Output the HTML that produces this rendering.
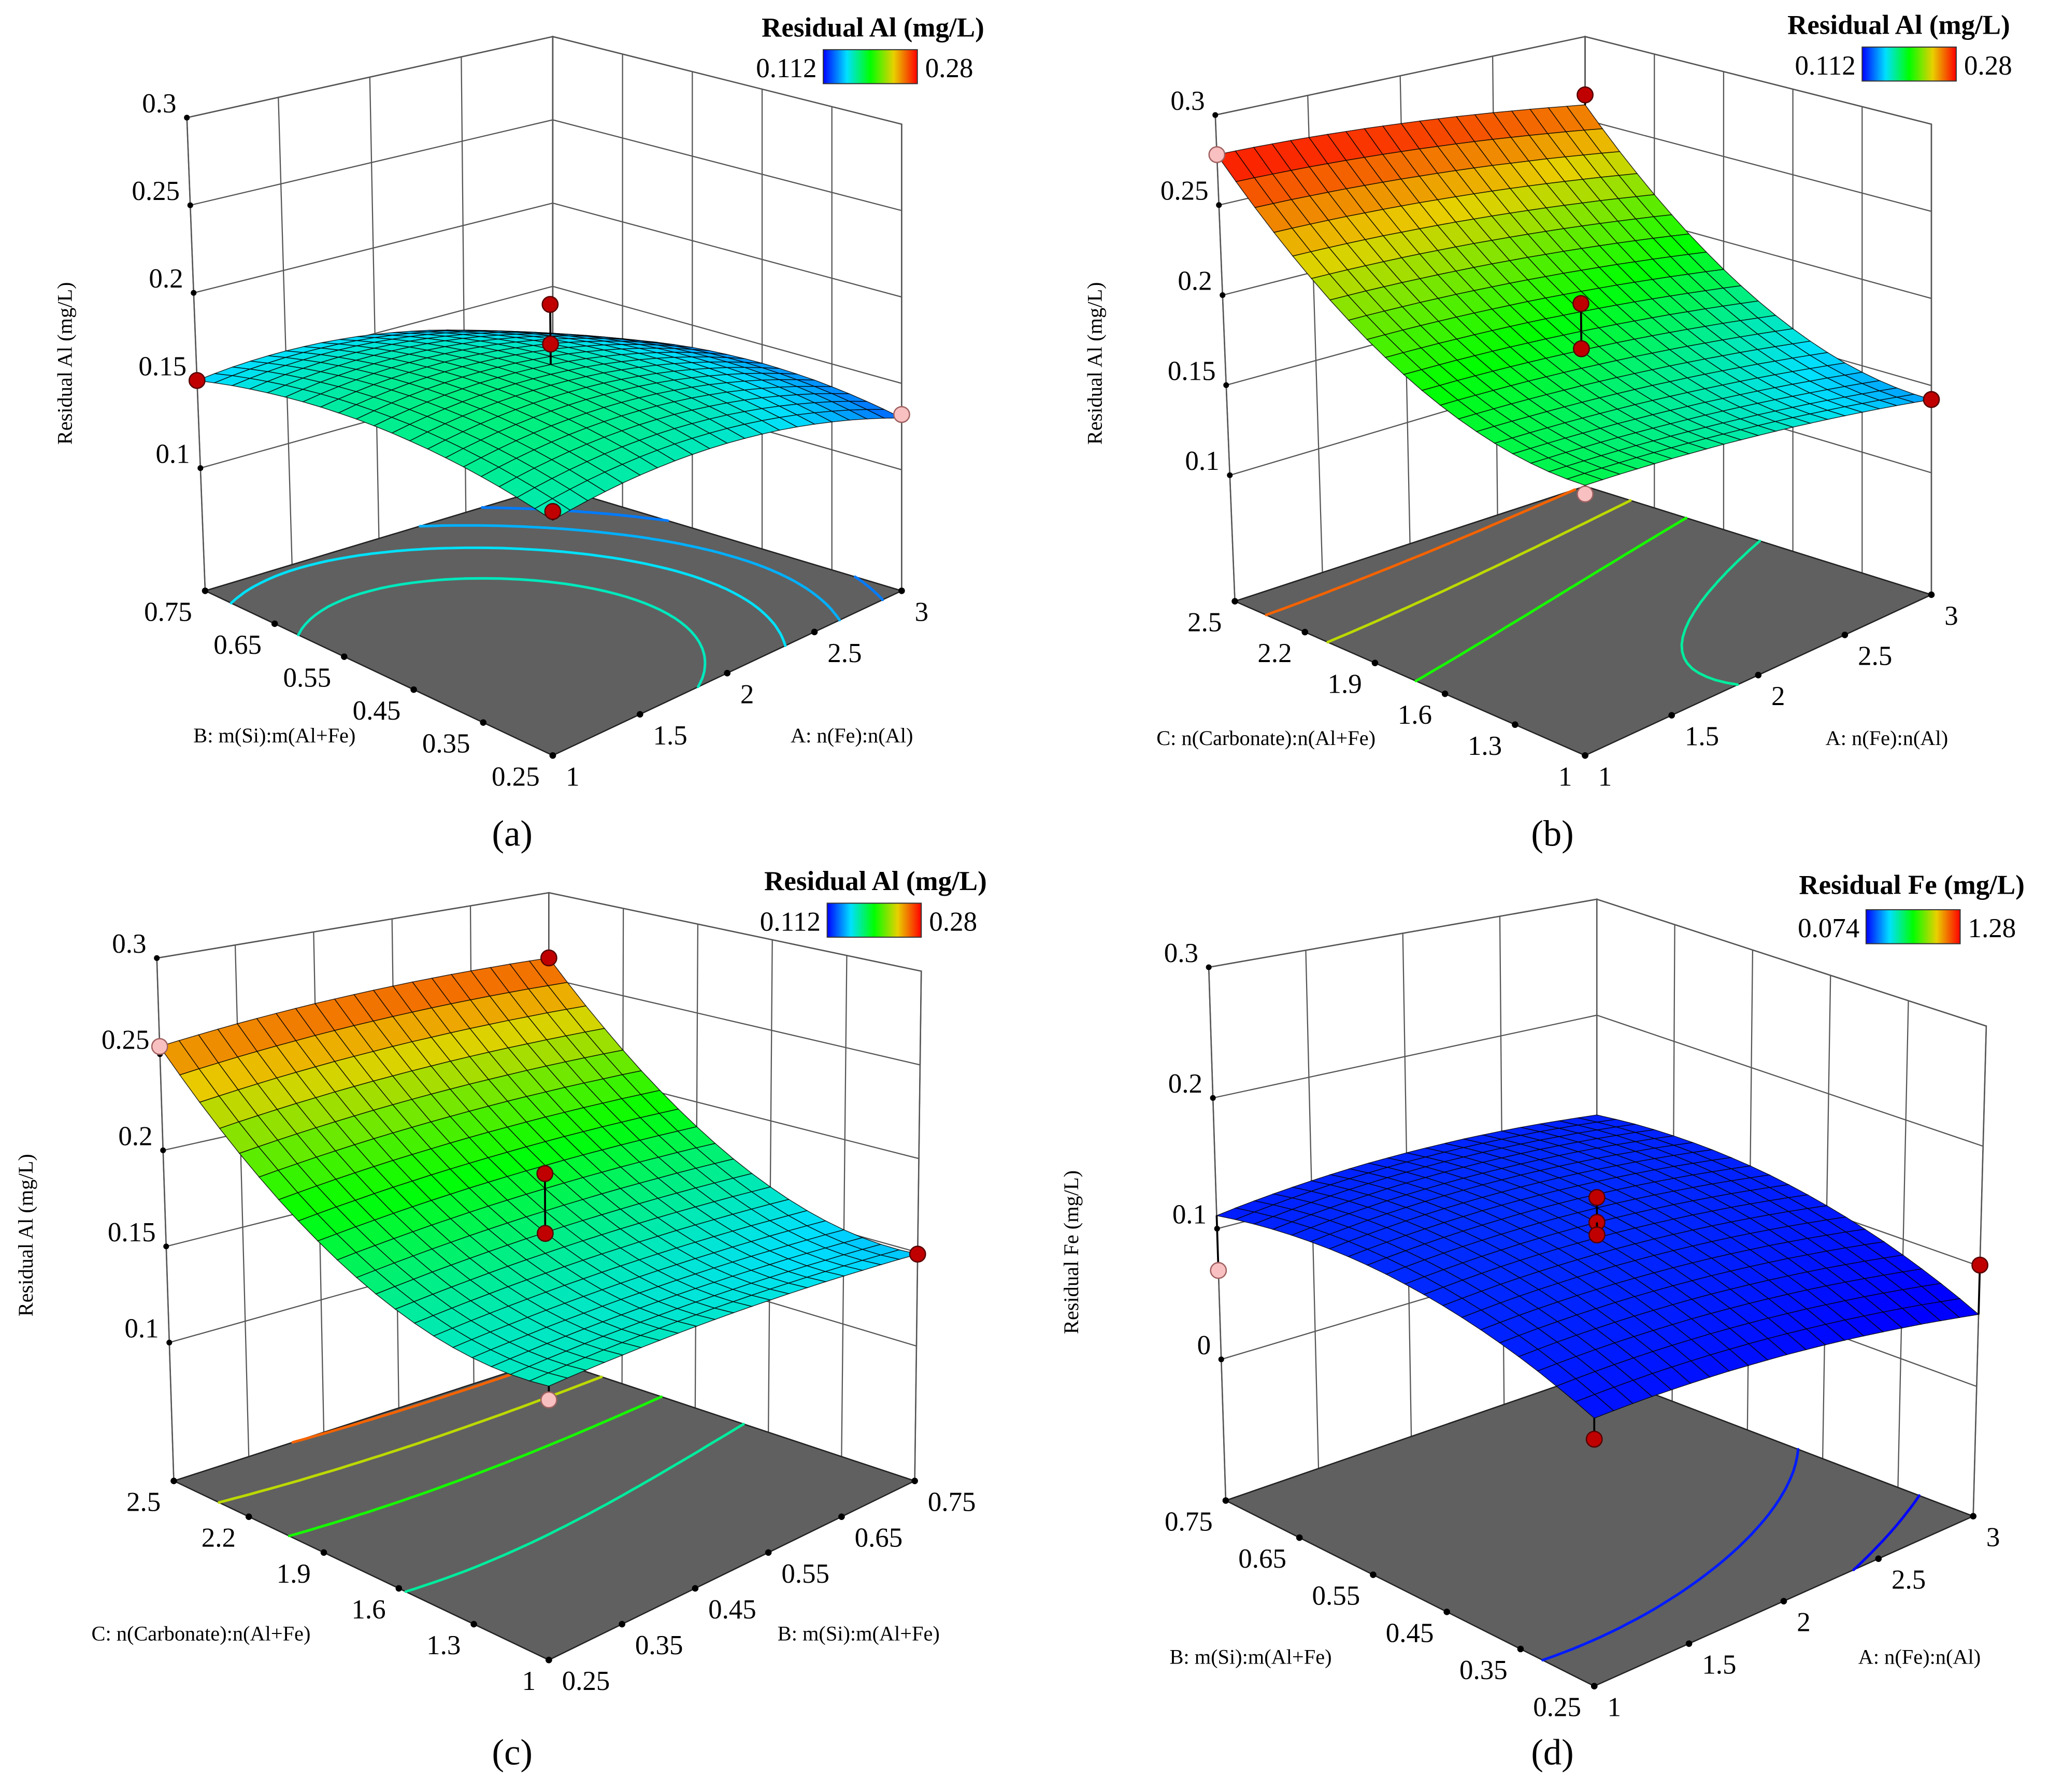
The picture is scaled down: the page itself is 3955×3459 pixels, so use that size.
<!DOCTYPE html>
<html><head><meta charset="utf-8">
<style>
html,body{margin:0;padding:0;background:#fff;}
svg{display:block;}
svg text{font-family:"Liberation Serif","DejaVu Serif",serif;}
</style></head>
<body>
<svg id="fig" width="3955" height="3459" viewBox="0 0 1568 1371" preserveAspectRatio="none" xmlns="http://www.w3.org/2000/svg">
<defs>
<linearGradient id="jet" x1="0" x2="1" y1="0" y2="0">
<stop offset="0" stop-color="#0000ff"/><stop offset="0.25" stop-color="#00e0ff"/><stop offset="0.5" stop-color="#00ff00"/><stop offset="0.75" stop-color="#e8d000"/><stop offset="1" stop-color="#ff0000"/>
</linearGradient>
</defs>
</svg>
<script>
// ---- data: quadratic model coefficients [b0, b1(u), b2(v), b12, b11, b22] in coded units ----
const coefA = [0.17, -0.0165, -0.0065, 0.001, -0.015, -0.014];
const coefB = [0.19, -0.0155, 0.0525, 0.006, -0.004, 0.03];
const coefC = [0.18, -0.0025, 0.05, 0.0065, -0.004, 0.032];
const coefD = [0.13, -0.008, 0.017, 0.01, -0.01, -0.025];
// tick labels
const ticksFeAl = [1, 1.5, 2, 2.5, 3];
const ticksSi = [0.25, 0.35, 0.45, 0.55, 0.65, 0.75];
const ticksCarb = [1, 1.3, 1.6, 1.9, 2.2, 2.5];
const zTicksAl = [0.1, 0.15, 0.2, 0.25, 0.3];
const zTicksFe = [0, 0.1, 0.2, 0.3];
// design points: [u coded, v coded, response, pink(1)/red(0)]
const ptsA = [[-1,1,0.15,0],[1,-1,0.132,1],[0,0,0.205,0],[0,0,0.182,0],[-1,-1,0.17,0]];
const ptsB = [[-1,1,0.278,1],[1,1,0.265,0],[1,-1,0.142,0],[0,0,0.206,0],[0,0,0.18,0],[-1,-1,0.18,1]];
const ptsC = [[-1,1,0.254,1],[1,1,0.262,0],[1,-1,0.149,0],[0,0,0.2,0],[0,0,0.168,0],[-1,-1,0.16,1]];
const ptsD = [[-1,1,0.068,1],[1,-1,0.101,0],[0,0,0.15,0],[0,0,0.13,0],[0,0,0.12,0],[-1,-1,0.08,0]];
// contour levels
const levA = [0.125, 0.135, 0.145, 0.155, 0.165];
const levB = [0.14, 0.17, 0.2, 0.23, 0.26];
const levC = [0.14, 0.17, 0.2, 0.23, 0.26];
const levD = [0.02, 0.05, 0.08, 0.11];

const NS = "http://www.w3.org/2000/svg";
const svg = document.getElementById('fig');
function mk(tag, attrs, parent){const e=document.createElementNS(NS,tag);for(const k in attrs)e.setAttribute(k,attrs[k]);(parent||svg).appendChild(e);return e;}
function jet(t){t=Math.max(0,Math.min(1,t));
 const st=[[0,0,0,255],[0.25,0,224,255],[0.5,0,255,0],[0.75,232,208,0],[1,255,0,0]];
 for(let i=0;i<4;i++){if(t<=st[i+1][0]){const f=(t-st[i][0])/(st[i+1][0]-st[i][0]);
  return 'rgb('+[1,2,3].map(k=>Math.round(st[i][k]+(st[i+1][k]-st[i][k])*f)).join(',')+')';}}
 return 'rgb(255,0,0)';}

const panels = [
 {id:'a', coef:coefA, pts:ptsA, lev:levA, uT:ticksFeAl, vT:ticksSi, zT:zTicksAl,
  F:[423,578], R:[690,452], L:[157,452], B:[423,372], h:[360,357,362,344], dxL:-14, dxR:0, zmin:0.03, zmax:0.3,
  cmin:0.112, cmax:0.28, zTitle:'Residual Al (mg/L)', zTx:55, zTy:278, vTitle:'B: m(Si):m(Al+Fe)', vTx:148, vTy:568, uTitle:'A: n(Fe):n(Al)', uTx:605, uTy:568,
  cbT:[668,28], cbL:[630,38], cbMin:'0.112', cbMax:'0.28', letter:'(a)', lx:392, ly:647},
 {id:'b', coef:coefB, pts:ptsB, lev:levB, uT:ticksFeAl, vT:ticksCarb, zT:zTicksAl,
  F:[1213,578], R:[1478,455], L:[945,460], B:[1213,372], h:[360,360,372,344], dxL:-15, dxR:0, zmin:0.03, zmax:0.3,
  cmin:0.112, cmax:0.28, zTitle:'Residual Al (mg/L)', zTx:843, zTy:278, vTitle:'C: n(Carbonate):n(Al+Fe)', vTx:885, vTy:570, uTitle:'A: n(Fe):n(Al)', uTx:1397, uTy:570,
  cbT:[1453,26], cbL:[1425,36], cbMin:'0.112', cbMax:'0.28', letter:'(b)', lx:1188, ly:647},
 {id:'c', coef:coefC, pts:ptsC, lev:levC, uT:ticksSi, vT:ticksCarb, zT:zTicksAl,
  F:[420,1270], R:[700,1133], L:[133,1133], B:[420,1040], h:[410,390,400,357], dxL:-13, dxR:5, zmin:0.028, zmax:0.3,
  cmin:0.112, cmax:0.28, zTitle:'Residual Al (mg/L)', zTx:25, zTy:945, vTitle:'C: n(Carbonate):n(Al+Fe)', vTx:70, vTy:1255, uTitle:'B: m(Si):m(Al+Fe)', uTx:595, uTy:1255,
  cbT:[670,681], cbL:[633,691], cbMin:'0.112', cbMax:'0.28', letter:'(c)', lx:392, ly:1350},
 {id:'d', coef:coefD, pts:ptsD, lev:levD, uT:ticksFeAl, vT:ticksSi, zT:zTicksFe,
  F:[1220,1290], R:[1510,1160], L:[938,1148], B:[1222,1050], h:[410,375,408,362], dxL:-13, dxR:10, zmin:-0.108, zmax:0.3,
  cmin:0.074, cmax:1.28, zTitle:'Residual Fe (mg/L)', zTx:825, zTy:958, vTitle:'B: m(Si):m(Al+Fe)', vTx:895, vTy:1273, uTitle:'A: n(Fe):n(Al)', uTx:1422, uTy:1273,
  cbT:[1463,684], cbL:[1428,696], cbMin:'0.074', cbMax:'1.28', letter:'(d)', lx:1188, ly:1350}
];

function model(c,u,v){return c[0]+c[1]*u+c[2]*v+c[3]*u*v+c[4]*u*u+c[5]*v*v;}

panels.forEach(P=>{
 const g = mk('g',{});
 
 
 function proj(s,t,z){
  const w=[(1-s)*(1-t), s*(1-t), (1-s)*t, s*t];
  const pts=[P.F,P.R,P.L,P.B];
  let x=0,y=0,h=0,dx=0;
  for(let i=0;i<4;i++){x+=w[i]*pts[i][0];y+=w[i]*pts[i][1];h+=w[i]*P.h[i];}
  dx=w[1]*P.dxR+w[2]*P.dxL;
  const f=(z-P.zmin)/(P.zmax-P.zmin);
  return [x+dx*f, y-h*f];}
 const uMin=P.uT[0], uMax=P.uT[P.uT.length-1], vMin=P.vT[0], vMax=P.vT[P.vT.length-1];
 const sOf=v=>(v-uMin)/(uMax-uMin), tOf=v=>(v-vMin)/(vMax-vMin);
 const poly=a=>a.map(p=>p[0].toFixed(1)+','+p[1].toFixed(1)).join(' ');
 const lw = mk('polygon',{points:poly([proj(0,1,P.zmin),proj(1,1,P.zmin),proj(1,1,P.zmax),proj(0,1,P.zmax)]),fill:'#fff',stroke:'#333','stroke-width':1},g);
 
 
 const rw = mk('polygon',{points:poly([proj(1,1,P.zmin),proj(1,0,P.zmin),proj(1,0,P.zmax),proj(1,1,P.zmax)]),fill:'#fff',stroke:'#333','stroke-width':1},g);
 
 
 P.uT.forEach(val=>{const s=sOf(val);const a=proj(s,1,P.zmin),b=proj(s,1,P.zmax);
  const l=mk('line',{x1:a[0],y1:a[1],x2:b[0],y2:b[1],stroke:'#555','stroke-width':0.9},g);
  
  });
 P.vT.forEach(val=>{const t=tOf(val);const a=proj(1,t,P.zmin),b=proj(1,t,P.zmax);
  const l=mk('line',{x1:a[0],y1:a[1],x2:b[0],y2:b[1],stroke:'#555','stroke-width':0.9},g);
  
  });
 P.zT.forEach(z=>{const a=proj(0,1,z),b=proj(1,1,z),c=proj(1,0,z);
  const l=mk('polyline',{points:poly([a,b,c]),fill:'none',stroke:'#555','stroke-width':0.9},g);
  
  
  const d=mk('circle',{cx:a[0],cy:a[1],r:2.2,fill:'#000'},g);
  
  
  const tx=mk('text',{x:a[0]-8,y:a[1]-4,'font-size':21,'text-anchor':'end',fill:'#000'},g);
  tx.textContent=String(z);
  
  });
 const fl=mk('polygon',{points:poly([proj(0,0,P.zmin),proj(1,0,P.zmin),proj(1,1,P.zmin),proj(0,1,P.zmin)]),fill:'#606060',stroke:'#222','stroke-width':1},g);
 
 
 const N=40;
 const zv=(i,j)=>model(P.coef,-1+2*i/N,-1+2*j/N);
 P.lev.forEach(L=>{
  let d='';
  for(let i=0;i<N;i++)for(let j=0;j<N;j++){
   const c=[[i,j],[i+1,j],[i+1,j+1],[i,j+1]];
   const vals=c.map(p=>zv(p[0],p[1]));
   const pts=[];
   for(let k=0;k<4;k++){const a=vals[k],b=vals[(k+1)%4];
    if((a-L)*(b-L)<0){const f=(L-a)/(b-a);const p=c[k],q=c[(k+1)%4];
     pts.push([(p[0]+(q[0]-p[0])*f)/N,(p[1]+(q[1]-p[1])*f)/N]);}}
   for(let k=0;k+1<pts.length;k+=2){const a=proj(pts[k][0],pts[k][1],P.zmin),b=proj(pts[k+1][0],pts[k+1][1],P.zmin);
    d+='M'+a[0].toFixed(1)+' '+a[1].toFixed(1)+'L'+b[0].toFixed(1)+' '+b[1].toFixed(1);}
  }
  const cp=mk('path',{d:d,stroke:jet((L-P.cmin)/(P.cmax-P.cmin)),'stroke-width':2,fill:'none','stroke-linecap':'round'},g);
  
  
 });
 P.uT.forEach(val=>{const a=proj(sOf(val),0,P.zmin);
  const d=mk('circle',{cx:a[0],cy:a[1],r:2.5,fill:'#000'},g);
  
  
  const tx=mk('text',{x:a[0]+10,y:a[1]+23,'font-size':21,fill:'#000'},g);
  tx.textContent=String(val);
  
  });
 P.vT.forEach(val=>{const a=proj(0,tOf(val),P.zmin);
  const d=mk('circle',{cx:a[0],cy:a[1],r:2.5,fill:'#000'},g);
  
  
  const tx=mk('text',{x:a[0]-10,y:a[1]+23,'font-size':21,'text-anchor':'end',fill:'#000'},g);
  tx.textContent=String(val);
  
  });
 const M=20, quads=[];
 for(let i=0;i<M;i++)for(let j=0;j<M;j++){
  const cs=[[i,j],[i+1,j],[i+1,j+1],[i,j+1]].map(p=>[p[0]/M,p[1]/M]);
  const zs=cs.map(p=>model(P.coef,-1+2*p[0],-1+2*p[1]));
  const zm=(zs[0]+zs[1]+zs[2]+zs[3])/4;
  quads.push({d:i+j, pts:cs.map((p,k)=>proj(p[0],p[1],zs[k])), z:zm});}
 quads.sort((a,b)=>b.d-a.d);
 const sg=mk('g',{},g);
 
 
 quads.forEach(q=>{const c=jet((q.z-P.cmin)/(P.cmax-P.cmin));
  const pq=mk('polygon',{points:poly(q.pts),fill:c,stroke:'#000','stroke-width':0.6,'stroke-opacity':0.8},sg);
  
  });
 P.pts.forEach(p=>{const s=(p[0]+1)/2,t=(p[1]+1)/2;const a=proj(s,t,p[2]);const b=proj(s,t,model(P.coef,p[0],p[1]));
  const l=mk('line',{x1:a[0],y1:a[1],x2:b[0],y2:b[1],stroke:'#000','stroke-width':1.5},g);
  
  
  const c=mk('circle',{cx:a[0],cy:a[1],r:6,fill:p[3]?'#f8c0c0':'#c00000',stroke:p[3]?'#a06060':'#500','stroke-width':1},g);
  
  });
 const zt=mk('text',{x:P.zTx,y:P.zTy,'font-size':16,'text-anchor':'middle',transform:'rotate(-90 '+P.zTx+' '+P.zTy+')'},g);
 zt.textContent=P.zTitle;
 
 
 const vt=mk('text',{x:P.vTx,y:P.vTy,'font-size':16},g);
 vt.textContent=P.vTitle;
 
 
 const ut=mk('text',{x:P.uTx,y:P.uTy,'font-size':16},g);
 ut.textContent=P.uTitle;
 
 
 const ct=mk('text',{x:P.cbT[0],y:P.cbT[1],'font-size':21,'font-weight':'bold','text-anchor':'middle'},g);
 ct.textContent=P.zTitle;
 
 
 const cr=mk('rect',{x:P.cbL[0],y:P.cbL[1],width:72,height:26,fill:'url(#jet)',stroke:'#333','stroke-width':0.8},g);
 
 
 const c1=mk('text',{x:P.cbL[0]-5,y:P.cbL[1]+21,'font-size':21,'text-anchor':'end'},g);
 c1.textContent=P.cbMin;
 
 
 const c2=mk('text',{x:P.cbL[0]+78,y:P.cbL[1]+21,'font-size':21},g);
 c2.textContent=P.cbMax;
 
 
 const lt=mk('text',{x:P.lx,y:P.ly,'font-size':28,'text-anchor':'middle'},g);
 lt.textContent=P.letter;
 
 
});
</script>
</body></html>
